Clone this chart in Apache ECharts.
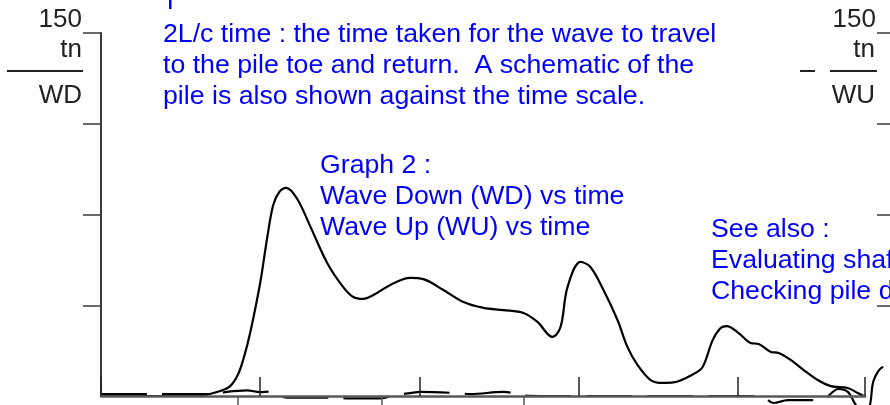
<!DOCTYPE html>
<html>
<head>
<meta charset="utf-8">
<script src="https://cdn.jsdelivr.net/npm/echarts@6/dist/echarts.min.js"></script>
<style>
  html, body { margin: 0; padding: 0; background: #ffffff; }
  #chart { width: 890px; height: 405px; }
</style>
</head>
<body>
<div id="chart"></div>
<script>
// Wave Down trace (solid): time in 2L/c units, force in tn
const wdTime = [0, 0.31, 0.62, 0.73, 0.81, 0.862, 0.9, 0.937, 1.0, 1.044, 1.082, 1.12, 1.164,
  1.233, 1.314, 1.421, 1.522, 1.585, 1.648, 1.711, 1.818, 1.943, 2.025, 2.151, 2.277, 2.403,
  2.528, 2.654, 2.742, 2.836, 2.887, 2.931, 3.013, 3.075, 3.157, 3.245, 3.308, 3.371, 3.453,
  3.528, 3.597, 3.723, 3.78, 3.843, 3.893, 3.931, 4.006, 4.082, 4.132, 4.208, 4.258, 4.333,
  4.415, 4.503, 4.585, 4.692, 4.755, 4.792];
const wdForce = [0, 0, 0.2, 1.7, 4.0, 9.1, 16.5, 26.0, 46.7, 65.3, 78.9, 84.3, 86.0,
  81.4, 70.2, 55.0, 45.0, 40.9, 40.1, 41.7, 45.9, 48.8, 48.3, 43.8, 38.8, 36.4,
  35.5, 34.3, 30.6, 24.4, 28.5, 45.0, 55.4, 53.3, 43.8, 31.4, 20.2, 12.8, 6.6,
  5.4, 5.6, 9.1, 12.0, 23.1, 28.1, 28.9, 26.0, 21.9, 21.5, 18.2, 17.8, 14.9,
  10.7, 6.6, 4.1, 3.3, 1.2, 0];

// Wave Up trace (dashed)
const wuTime = [0, 0.717, 0.78, 0.918, 1.0, 1.063, 1.17, 1.459, 1.553, 1.755, 1.849, 1.943,
  2.006, 2.239, 2.321, 2.528, 2.591, 2.648, 2.761, 4.145, 4.226, 4.314, 4.428, 4.522, 4.635,
  4.692, 4.742, 4.79, 4.83, 4.855, 4.918, 4.957];
const wuForce = [0.8, 0.8, 1.6, 2.3, 1.6, 1.8, -0.7, -0.7, -1.0, -1.0, 0.4, 1.2,
  1.7, 1.2, 0.8, 1.7, 1.2, 0.2, 0, 0, -2.9, -1.7, -1.7, -1.7, 2.9,
  1.7, -3.7, -8.0, -4.0, 6.6, 12.0, 9.9];

// Time scale: upward ticks every 1 unit, pile schematic marks below the axis
const timeMax = 4.8;
const timeInterval = 1;
const pileMarks = [0.862, 1.767, 2.654];
// Force axis ticks and the single labelled value
const forceTicks = [37.5, 75, 112.5, 150];
const forceLabels = [150];

// Annotation text
const noteLines = [
  '2L/c time : the time taken for the wave to travel',
  'to the pile toe and return.  A schematic of the',
  'pile is also shown against the time scale.'
];
const graphLines = ['Graph 2 :', 'Wave Down (WD) vs time', 'Wave Up (WU) vs time'];
const seeAlsoLines = ['See also :', 'Evaluating shaft resistance', 'Checking pile driveability'];

const FONT = '"Liberation Sans", Arial, sans-serif';
const BLUE = '#0000ff';
const INK = '#222222';

// Plot frame: axes drawn from 101px to 865px; traces may run on to the right edge
const PLOT_LEFT = 101, AXIS_RIGHT = 865, W = 890;
const pxPerUnit = (AXIS_RIGHT - PLOT_LEFT) / timeMax;
const traceMax = (W - PLOT_LEFT) / pxPerUnit;

const zip = (a, b) => a.map((v, i) => [v, b[i]]);

function blueBlock(lines, x, y0, step) {
  return lines.map((t, i) => ({
    type: 'text', x: x, y: y0 + i * step, z: 10,
    style: { text: t, fill: BLUE, font: '26.7px ' + FONT,
      textAlign: 'left', textVerticalAlign: 'middle', align: 'left', verticalAlign: 'middle' }
  }));
}
function inkText(t, x, y) {
  return {
    type: 'text', x: x, y: y, z: 10,
    style: { text: t, fill: INK, font: '26px ' + FONT,
      textAlign: 'right', textVerticalAlign: 'middle', align: 'right', verticalAlign: 'middle' }
  };
}
function rule(x1, x2, y) {
  return { type: 'line', z: 10, shape: { x1: x1, y1: y, x2: x2, y2: y },
    style: { stroke: INK, lineWidth: 2 } };
}

const forceAxisVisible = {
  type: 'value', min: 0, max: 150, interval: 37.5, z: 3,
  axisLine: { show: true, onZero: false, lineStyle: { color: '#3a3a3a', width: 2 } },
  axisTick: { show: true, inside: false, length: 18, customValues: forceTicks,
    lineStyle: { color: '#3a3a3a', width: 1.5 } },
  axisLabel: { show: true, customValues: forceLabels, margin: 19, verticalAlign: 'bottom',
    fontSize: 26, fontFamily: FONT, color: INK },
  splitLine: { show: false }
};

const gridBase = { top: 33, bottom: 9, containLabel: false, outerBoundsMode: 'none' };

const chart = echarts.init(document.getElementById('chart'), null, { renderer: 'canvas' });
chart.setOption({
  animation: false,
  backgroundColor: '#ffffff',
  grid: [
    // 0: trace area (to the right edge)
    Object.assign({ left: PLOT_LEFT, right: 0 }, gridBase),
    // 1: visible WD axes
    Object.assign({ left: PLOT_LEFT, right: W - AXIS_RIGHT }, gridBase),
    // 2: WU graph axes, starting just past the right edge
    Object.assign({ left: 895, width: 300 }, gridBase)
  ],
  xAxis: [
    { type: 'value', gridIndex: 0, min: 0, max: traceMax, show: false },
    { type: 'value', gridIndex: 1, min: 0, max: timeMax, interval: timeInterval, z: 3,
      axisLine: { show: true, onZero: false, lineStyle: { color: '#5a5a5a', width: 2.5 } },
      axisTick: { show: true, inside: true, length: 19, lineStyle: { color: '#222', width: 1.5 } },
      axisLabel: { show: false }, splitLine: { show: false } },
    { type: 'value', gridIndex: 1, position: 'bottom', offset: 0, min: 0, max: timeMax, z: 3,
      axisLine: { show: false },
      axisTick: { show: true, inside: false, length: 12, customValues: pileMarks,
        lineStyle: { color: '#555', width: 1.5 } },
      axisLabel: { show: false }, splitLine: { show: false } },
    { type: 'value', gridIndex: 2, min: 0, max: timeMax, show: false }
  ],
  yAxis: [
    { type: 'value', gridIndex: 0, min: 0, max: 150, show: false },
    Object.assign({ gridIndex: 1, position: 'left' }, forceAxisVisible),
    Object.assign({ gridIndex: 2, position: 'left' }, forceAxisVisible)
  ],
  series: [
    { name: 'WD', type: 'line', xAxisIndex: 0, yAxisIndex: 0, data: zip(wdTime, wdForce),
      smooth: 0.35, symbol: 'none', clip: false, z: 2,
      lineStyle: { color: '#000', width: 2.2 } },
    { name: 'WU', type: 'line', xAxisIndex: 0, yAxisIndex: 0, data: zip(wuTime, wuForce),
      smooth: 0.35, symbol: 'none', clip: false, z: 2,
      lineStyle: { color: '#000', width: 2.2, type: [46, 15] } }
  ],
  graphic: [
    { type: 'rect', z: 10, shape: { x: 169, y: 0, width: 2.5, height: 9 }, style: { fill: BLUE } },
    ...blueBlock(noteLines, 163, 35, 31),
    ...blueBlock(graphLines, 320, 166, 31),
    ...blueBlock(seeAlsoLines, 711, 230, 31),
    inkText('tn', 82, 50), rule(7, 83, 71), inkText('WD', 82, 96),
    inkText('tn', 875, 50), rule(830, 877, 71), rule(800, 815, 71), inkText('WU', 875, 96)
  ]
});
</script>
</body>
</html>
